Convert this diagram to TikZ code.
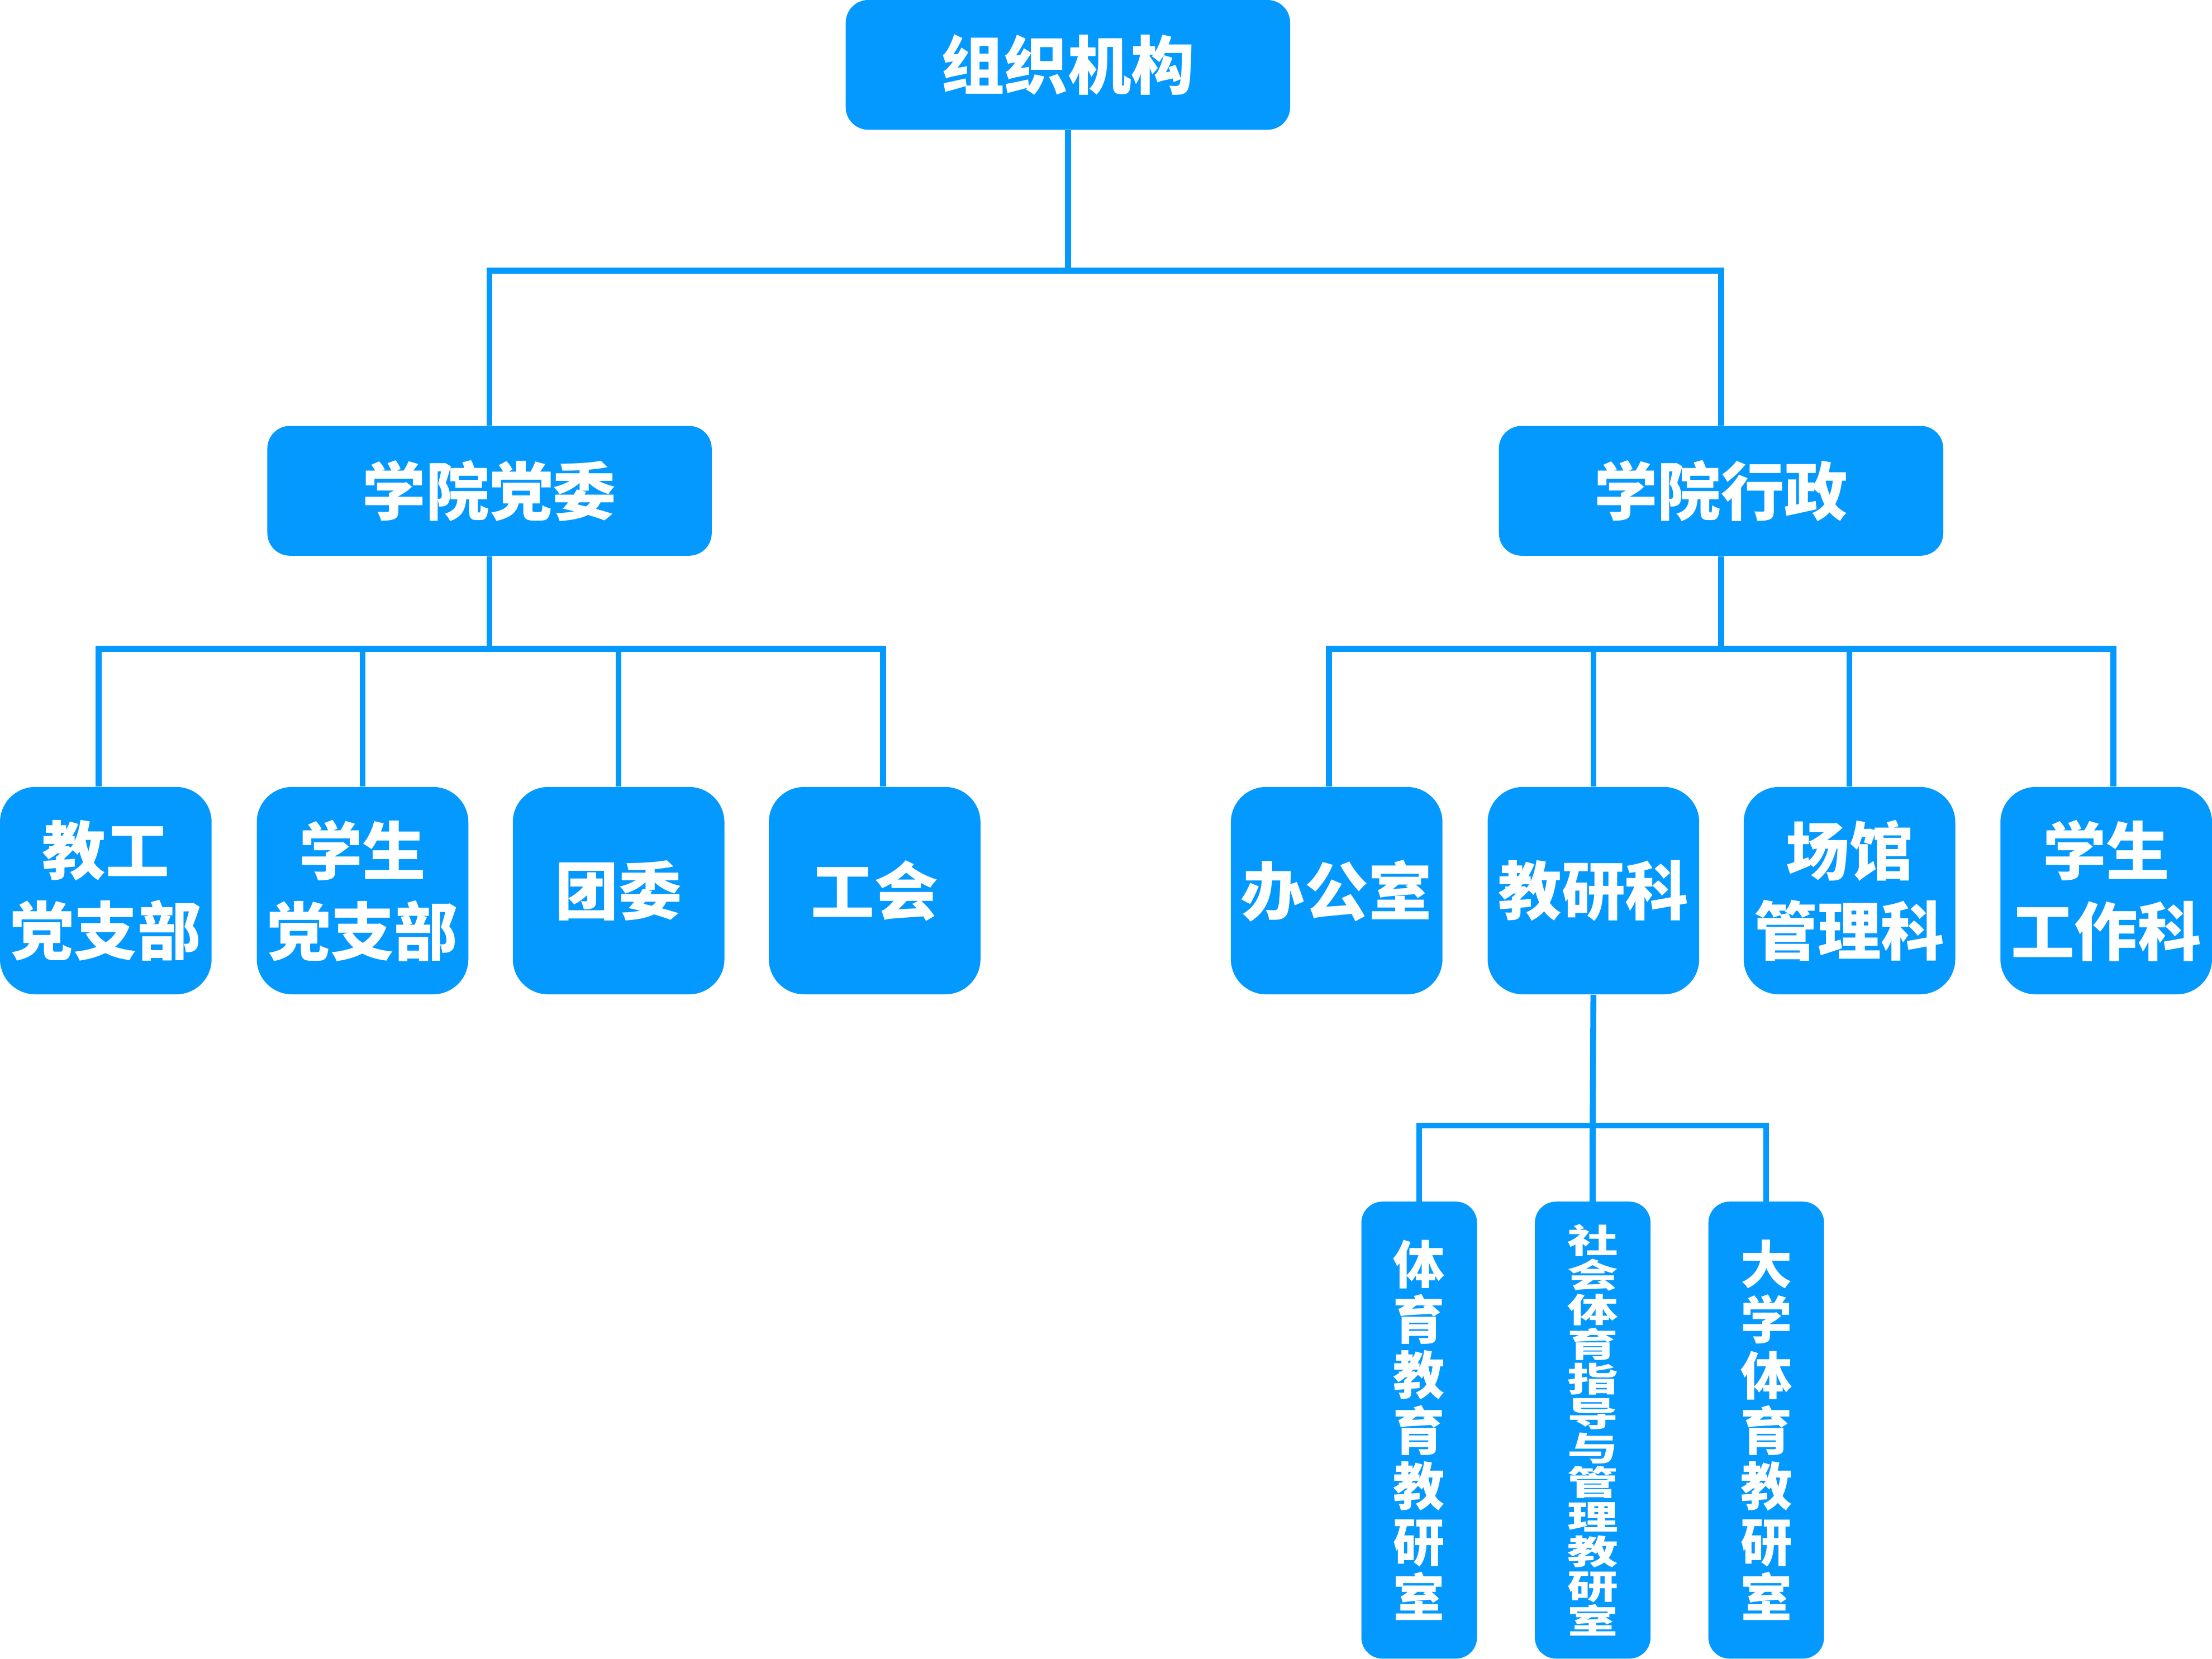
\documentclass[tikz,border=0pt]{standalone}
\usepackage{fontspec}
\newfontfamily\cjk{Noto Sans CJK SC}
\usepackage{tikz}
\usetikzlibrary{calc}
\definecolor{orgblue}{RGB}{3,153,255}

\begin{document}
\begin{tikzpicture}[x=0.25mm,y=-0.25mm]
\tikzstyle{box}=[rectangle,align=center,fill=orgblue,text=white,inner sep=0pt]
\tikzstyle{head}=[box,minimum width=78.75mm,minimum height=23mm,rounded corners=4mm,font=\cjk\bfseries\fontsize{32pt}{40pt}\selectfont]
\tikzstyle{unit}=[box,minimum width=37.5mm,minimum height=36.75mm,rounded corners=6.25mm,font=\cjk\bfseries\fontsize{32pt}{40.5pt}\selectfont]
\tikzstyle{room}=[box,minimum width=20.5mm,minimum height=81mm,rounded corners=3.75mm,font=\cjk\bfseries\fontsize{26pt}{28pt}\selectfont]
\tikzstyle{link}=[draw=orgblue,line width=1.05mm]
\useasboundingbox (0,0) rectangle (1568,1176);

% top and second level
\node[head] at(757,46) (top) {组织机构};
\node[head] at(347,348) (dw) {学院党委};
\node[head] at(1220,348) (xz) {学院行政};

% under the party committee
\node[unit] at(75,631.5) (jg) {教工\\党支部};
\node[unit] at(257,631.5) (xs) {学生\\党支部};
\node[unit] at(438.5,631.5) (tw) {团委};
\node[unit] at(620,631.5) (gh) {工会};

% under the administration
\node[unit] at(947.5,631.5) (bg) {办公室};
\node[unit] at(1129.5,631.5) (jy) {教研科};
\node[unit] at(1311,631.5) (cg) {场馆\\管理科};
\node[unit] at(1493,631.5) (xg) {学生\\工作科};

% teaching offices
\node[room] at(1006,1014) (ty) {体\\育\\教\\育\\教\\研\\室};
\node[room] at(1129,1014) (sh) {\scalebox{1}[0.66]{\parbox{26pt}{\centering
  \fontsize{25.6pt}{26.4pt}\selectfont\lineskiplimit=-20pt
  社\\会\\体\\育\\指\\导\\与\\管\\理\\教\\研\\室}}};
\node[room] at(1252,1014) (dx) {大\\学\\体\\育\\教\\研\\室};

\coordinate (t0) at (757,192);
\coordinate (d0) at (347,460);
\coordinate (x0) at (1220,460);
\coordinate (y0) at (1129,798);

\draw[link] (top.south) -- (t0);
\draw[link] (dw.north) |- (t0) -| (xz.north);

\draw[link] (dw.south) -- (d0);
\draw[link] ([xshift=-1.25mm]jg.north) |- (d0) -| ([xshift=1.5mm]gh.north);
\draw[link] (xs.north) -- (xs.north |- d0);
\draw[link] (tw.north) -- (tw.north |- d0);

\draw[link] (xz.south) -- (x0);
\draw[link] ([xshift=-1.4mm]bg.north) |- (x0) -| ([xshift=1.25mm]xg.north);
\draw[link] (jy.north) -- (jy.north |- x0);
\draw[link] (cg.north) -- (cg.north |- x0);

\draw[link] (jy.south) -- (y0);
\draw[link] (ty.north) |- (y0) -| (dx.north);
\draw[link] (sh.north) -- (y0);
\end{tikzpicture}
\end{document}
